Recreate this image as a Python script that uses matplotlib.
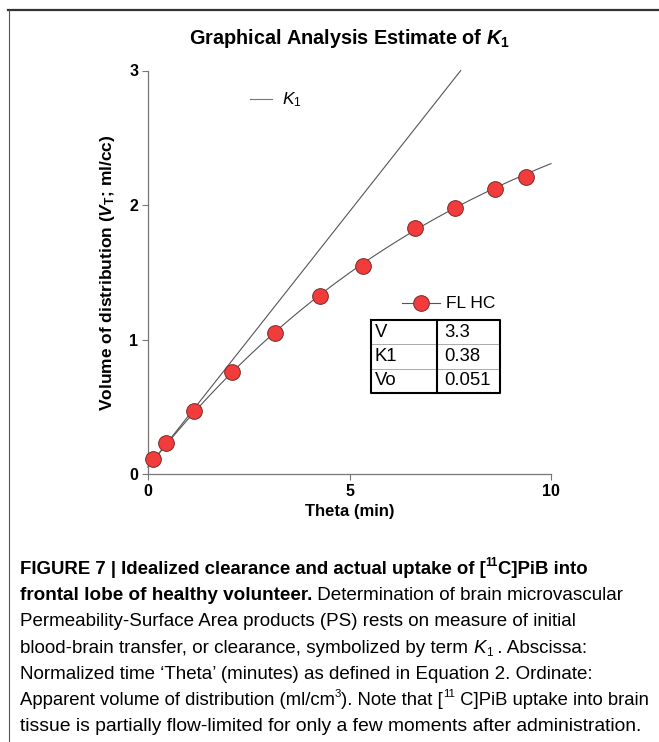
import numpy as np
import matplotlib
matplotlib.use("Agg")
import matplotlib.pyplot as plt
from matplotlib import font_manager
from matplotlib.lines import Line2D

# ---------------- data ----------------
theta = [0.12, 0.45, 1.14, 2.08, 3.15, 4.27, 5.33, 6.62, 7.62, 8.61, 9.38]
vt = [0.11, 0.23, 0.47, 0.76, 1.05, 1.32, 1.55, 1.83, 1.98, 2.12, 2.21]

param_names = ["V", "K1", "Vo"]
param_values = [3.3, 0.38, 0.051]
V_fit, K1_fit, Vo_fit = param_values

xticks = [0, 5, 10]
yticks = [0, 1, 2, 3]

# ---------------- fonts ----------------
names = {f.name for f in font_manager.fontManager.ttflist}
base = "Liberation Sans"
cap_font = "Liberation Sans Narrow" if "Liberation Sans Narrow" in names else base
plt.rcParams["font.family"] = [base, "DejaVu Sans"]
plt.rcParams["mathtext.fontset"] = "custom"
plt.rcParams["mathtext.rm"] = base
plt.rcParams["mathtext.it"] = base + ":italic"
plt.rcParams["mathtext.bf"] = base + ":bold"
plt.rcParams["mathtext.bfit"] = base + ":bold:italic"

fig = plt.figure(figsize=(6.59, 7.42), dpi=100)
W, H = 659, 742

def fx(px):
    return px / W

def fy(py):
    return 1 - py / H

# frame lines (top + left)
fig.add_artist(Line2D([fx(8), 1], [fy(9.5), fy(9.5)], color="#333333", lw=1.6))
fig.add_artist(Line2D([fx(8.5), fx(8.5)], [fy(9.5), 0], color="#555555", lw=0.8))

ax = fig.add_axes([fx(148), fy(474), fx(551) - fx(148), (474 - 70.5) / H])

# fit curve and initial slope line from the table parameters
t_curve = np.linspace(0, 10, 200)
v_curve = Vo_fit + V_fit * (1 - np.exp(-K1_fit * t_curve / V_fit))
t_end = (3 - Vo_fit) / K1_fit
ax.plot([0, t_end], [Vo_fit, 3], color="#555555", lw=0.8, clip_on=False)
ax.plot(t_curve, v_curve, color="#555555", lw=0.8, clip_on=False)
ax.plot(theta, vt, "o", ms=11.3, mfc="#f23c3c", mec="#7a2a2a", mew=0.7,
        clip_on=False, zorder=5)

ax.set_xlim(0, 10)
ax.set_ylim(0, 3)
ax.set_xticks(xticks)
ax.set_yticks(yticks)
for s in ["top", "right"]:
    ax.spines[s].set_visible(False)
for s in ["left", "bottom"]:
    ax.spines[s].set_color("#777777")
    ax.spines[s].set_linewidth(0.9)
ax.tick_params(direction="out", length=4, width=0.8, color="#777777",
               labelsize=11.5, pad=3)
for lab in ax.get_xticklabels() + ax.get_yticklabels():
    lab.set_fontweight("bold")

ax.set_xlabel("Theta (min)", fontsize=12, fontweight="bold", labelpad=4)
ax.set_ylabel(r"Volume of distribution ($\mathbfit{V}_\mathbf{T}$; ml/cc)",
              fontsize=12.5, fontweight="bold", labelpad=9)
fig.text(fx(350), fy(38), r"Graphical Analysis Estimate of $\mathbfit{K}_\mathbf{1}$",
         fontsize=14.3, fontweight="bold", ha="center", va="center")

# legends
fig.add_artist(Line2D([fx(250), fx(272)], [fy(99), fy(99)], color="#777777", lw=0.8))
fig.text(fx(282), fy(100), r"$K_1$", fontsize=12.5, va="center")
fig.add_artist(Line2D([fx(402), fx(440)], [fy(303), fy(303)], color="#555555", lw=0.8))
fig.add_artist(Line2D([fx(421)], [fy(303)], marker="o", ms=11.3, mfc="#f23c3c",
                      mec="#7a2a2a", mew=0.7))
fig.text(fx(446), fy(304), "FL HC", fontsize=12.5, va="center")

# parameter table
x0, x1, xm = 371, 500, 437
y0, y1 = 320, 393
rh = (y1 - y0) / len(param_names)
for i in range(1, len(param_names)):
    yy = y0 + i * rh
    fig.add_artist(Line2D([fx(x0), fx(x1)], [fy(yy), fy(yy)], color="#aaaaaa", lw=0.7))
fig.add_artist(Line2D([fx(x0), fx(x1), fx(x1), fx(x0), fx(x0)],
                      [fy(y0), fy(y0), fy(y1), fy(y1), fy(y0)], color="black", lw=1.5))
fig.add_artist(Line2D([fx(xm), fx(xm)], [fy(y0), fy(y1)], color="black", lw=1.5))
for i, (n, v) in enumerate(zip(param_names, param_values)):
    yc = y0 + (i + 0.5) * rh
    fig.text(fx(375), fy(yc), n, fontsize=13.3, va="center")
    fig.text(fx(444), fy(yc), str(v), fontsize=13.3, va="center")

# ---------------- caption ----------------
renderer = fig.canvas.get_renderer()
cap_size = 13.6

cap_lines = [
    [("FIGURE 7 | Idealized clearance and actual uptake of [", "bold", "normal", False),
     ("11", "bold", "normal", True), ("C]PiB into", "bold", "normal", False)],
    [("frontal lobe of healthy volunteer.", "bold", "normal", False),
     (" Determination of brain microvascular", "normal", "normal", False)],
    [("Permeability-Surface Area products (PS) rests on measure of initial", "normal", "normal", False)],
    [("blood-brain transfer, or clearance, symbolized by term ", "normal", "normal", False),
     ("K", "normal", "italic", False), ("1", "normal", "normal", "sub"),
     (" . Abscissa:", "normal", "normal", False)],
    [("Normalized time \u2018Theta\u2019 (minutes) as defined in Equation 2. Ordinate:", "normal", "normal", False)],
    [("Apparent volume of distribution (ml/cm", "normal", "normal", False),
     ("3", "normal", "normal", True),
     ("). Note that [", "normal", "normal", False), ("11", "normal", "normal", True),
     (" C]PiB uptake into brain", "normal", "normal", False)],
    [("tissue is partially flow-limited for only a few moments after administration.", "normal", "normal", False)],
]
# right edge of each caption line in the reference (px)
cap_right = [592, 622, 573, 588, 590, 647, 638]

def put_line(segments, x_px, y_px, size0):
    x = fx(x_px)
    made = []
    for txt, weight, style, sup in segments:
        if sup == "sub":
            size, off = size0 * 0.62, -3
        elif sup:
            size, off = size0 * 0.62, 8
        else:
            size, off = size0, 0
        t = fig.text(x, fy(y_px - off), txt, fontsize=size, fontweight=weight,
                     fontstyle=style, family=[cap_font, "DejaVu Sans"], va="baseline")
        made.append(t)
        x += t.get_window_extent(renderer).width / W
    return made, x * W

for i, segs in enumerate(cap_lines):
    y_line = 574 + i * 26.2
    made, right = put_line(segs, 20, y_line, cap_size)
    for t in made:
        t.remove()
    size_fit = cap_size * (cap_right[i] - 20) / (right - 20)
    put_line(segs, 20, y_line, size_fit)

fig.savefig("out.png", dpi=100)
